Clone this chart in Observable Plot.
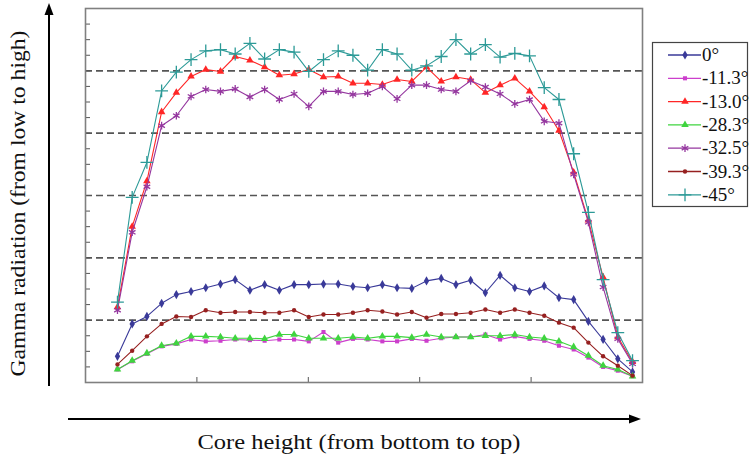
<!DOCTYPE html>
<html>
<head>
<meta charset="utf-8">
<script src="https://cdn.jsdelivr.net/npm/d3@7"></script>
<script src="https://cdn.jsdelivr.net/npm/@observablehq/plot@0.6"></script>
<style>
  html, body { margin: 0; padding: 0; background: #fff; }
  #chart { width: 750px; height: 468px; }
  #chart svg, #chart svg text { font-family: "Liberation Serif", "DejaVu Serif", "Times New Roman", serif !important; }
</style>
</head>
<body>
<div id="chart"></div>
<script>
// ---- data ----
const seriesNames = ["0°", "-11.3°", "-13.0°", "-28.3°", "-32.5°", "-39.3°", "-45°"];
const deg0   = [0.42,0.94,1.06,1.27,1.41,1.46,1.52,1.58,1.65,1.48,1.57,1.48,1.57,1.57,1.58,1.58,1.54,1.52,1.57,1.52,1.51,1.63,1.67,1.57,1.64,1.44,1.72,1.52,1.46,1.55,1.36,1.33,0.98,0.69,0.38,0.17];
const deg11  = [0.21,0.34,0.46,0.58,0.62,0.69,0.66,0.67,0.69,0.68,0.67,0.69,0.69,0.66,0.81,0.64,0.70,0.69,0.66,0.66,0.70,0.67,0.71,0.73,0.73,0.77,0.69,0.74,0.70,0.67,0.59,0.53,0.40,0.25,0.19,0.10];
const deg13  = [1.21,2.50,3.23,4.34,4.65,4.91,5.02,4.99,5.23,5.17,5.06,4.93,4.95,5.02,4.90,4.91,4.80,4.80,4.78,4.86,4.83,5.06,4.83,4.90,4.86,4.65,4.77,4.88,4.67,4.42,4.04,3.37,2.60,1.69,0.73,0.33];
const deg28  = [0.21,0.35,0.47,0.59,0.63,0.74,0.74,0.73,0.71,0.71,0.70,0.77,0.77,0.71,0.71,0.71,0.73,0.71,0.74,0.74,0.72,0.77,0.73,0.73,0.73,0.75,0.75,0.77,0.73,0.71,0.66,0.57,0.43,0.27,0.21,0.10];
const deg32  = [1.16,2.41,3.14,4.12,4.28,4.59,4.70,4.67,4.71,4.58,4.70,4.54,4.63,4.43,4.67,4.67,4.62,4.64,4.75,4.55,4.77,4.77,4.70,4.67,4.84,4.74,4.63,4.47,4.54,4.19,4.16,3.34,2.57,1.53,0.70,0.30];
const deg39  = [0.29,0.51,0.74,0.94,1.06,1.05,1.16,1.12,1.13,1.13,1.12,1.12,1.16,1.05,1.09,1.09,1.12,1.16,1.14,1.09,1.13,1.04,1.10,1.10,1.12,1.17,1.12,1.17,1.12,1.07,0.96,0.88,0.64,0.42,0.27,0.11];
const deg45  = [1.29,2.97,3.53,4.68,4.98,5.18,5.32,5.34,5.27,5.44,5.19,5.34,5.30,4.99,5.18,5.32,5.25,5.01,5.34,5.27,5.01,5.08,5.23,5.50,5.27,5.42,5.22,5.28,5.24,4.73,4.54,3.67,2.73,1.65,0.80,0.35];
const gridLines = [1, 2, 3, 4, 5];
const xTicks = [1, 2, 3, 4];
const yTicks = d3.range(0, 6.001, 0.25);
const xLabel = "Core height (from bottom to top)";
const yLabel = "Gamma radiation (from low to high)";

// sample positions along the core (equally spaced samples)
const firstSample = 0.287, sampleStep = 0.1321;

const values = [deg0, deg11, deg13, deg28, deg32, deg39, deg45];
const styles = [
  {color: "#3a3a99", symbol: "diamond",  r: 2.8, filled: true},
  {color: "#cc3fcc", symbol: "square",   r: 2.3, filled: true},
  {color: "#ff2626", symbol: "triangle", r: 2.8, filled: true},
  {color: "#3fd43f", symbol: "triangle", r: 2.8, filled: true},
  {color: "#95379f", symbol: "asterisk", r: 3.6, filled: false},
  {color: "#962020", symbol: "circle",   r: 2.2, filled: true},
  {color: "#2c9a97", symbol: "plus",     r: 4.2, filled: false}
];
const serif = "Liberation Serif, DejaVu Serif, serif";

const marks = [];
values.forEach((vals, k) => {
  const data = vals.map((v, i) => ({x: firstSample + i * sampleStep, y: v}));
  const s = styles[k];
  marks.push(Plot.line(data, {x: "x", y: "y", stroke: s.color, strokeWidth: 1.1}));
  marks.push(Plot.dot(data, {
    x: "x", y: "y", symbol: s.symbol, r: s.r,
    fill: s.filled ? s.color : "none",
    stroke: s.filled ? "none" : s.color,
    strokeWidth: s.filled ? 0 : 1.3
  }));
});

const chart = Plot.plot({
  width: 750,
  height: 468,
  marginTop: 8,
  marginRight: 108,
  marginBottom: 86,
  marginLeft: 85,
  style: {fontFamily: serif, background: "#fff"},
  x: {domain: [0, 5]},
  y: {domain: [0, 6]},
  marks: [
    Plot.ruleY(gridLines, {stroke: "#555", strokeWidth: 1.6, strokeDasharray: "7,4"}),
    Plot.axisY({ticks: yTicks, tickSize: -5, tickFormat: () => "", label: null, stroke: "#555"}),
    Plot.axisX({ticks: xTicks, tickSize: -5, tickFormat: () => "", label: null, stroke: "#555"}),
    ...marks,
    Plot.frame({stroke: "#808080", strokeWidth: 1.6}),
    Plot.text([yLabel], {frameAnchor: "left", textAnchor: "middle", dx: -67, dy: 8, rotate: -90, fontSize: 20, fill: "#111"}),
    Plot.text([xLabel], {frameAnchor: "bottom", textAnchor: "middle", dx: -5, dy: 66, fontSize: 20, fill: "#111"})
  ]
});
document.getElementById("chart").appendChild(chart);

const svg = d3.select(chart);
// stretch the axis titles to the span they take in the reference
svg.selectAll("text").filter(function() { return this.textContent === xLabel; })
  .attr("textLength", 323).attr("lengthAdjust", "spacingAndGlyphs");
svg.selectAll("text").filter(function() { return this.textContent === yLabel; })
  .attr("textLength", 346).attr("lengthAdjust", "spacingAndGlyphs");

// ---- decorations: axis arrows and legend ----
const deco = svg.append("g");
deco.append("line").attr("x1", 49).attr("y1", 386).attr("x2", 49).attr("y2", 12)
  .attr("stroke", "#000").attr("stroke-width", 2);
deco.append("path").attr("d", "M49,3L44.5,15L53.5,15Z").attr("fill", "#000");
deco.append("line").attr("x1", 68).attr("y1", 419).attr("x2", 631).attr("y2", 419)
  .attr("stroke", "#000").attr("stroke-width", 2);
deco.append("path").attr("d", "M641,419L629,414.5L629,423.5Z").attr("fill", "#000");

const lg = svg.append("g").attr("text-anchor", "start");
lg.append("rect").attr("x", 652.5).attr("y", 42.5).attr("width", 95).attr("height", 164)
  .attr("fill", "#fff").attr("stroke", "#444").attr("stroke-width", 1.2);
const symbolMap = {
  diamond: d3.symbolDiamond, square: d3.symbolSquare, triangle: d3.symbolTriangle,
  circle: d3.symbolCircle, asterisk: d3.symbolAsterisk, plus: d3.symbolPlus
};
seriesNames.forEach((name, k) => {
  const s = styles[k];
  const y = 55 + k * 23.3;
  lg.append("line").attr("x1", 668).attr("x2", 701).attr("y1", y).attr("y2", y)
    .attr("stroke", s.color).attr("stroke-width", 1.3);
  lg.append("path")
    .attr("transform", `translate(685,${y})`)
    .attr("d", d3.symbol(symbolMap[s.symbol], Math.PI * s.r * s.r)())
    .attr("fill", s.filled ? s.color : "none")
    .attr("stroke", s.filled ? "none" : s.color)
    .attr("stroke-width", 1.3);
  lg.append("text").attr("x", 702).attr("y", y + 6)
    .attr("text-anchor", "start")
    .attr("font-size", 19)
    .attr("fill", "#111").text(name);
});
</script>
</body>
</html>
